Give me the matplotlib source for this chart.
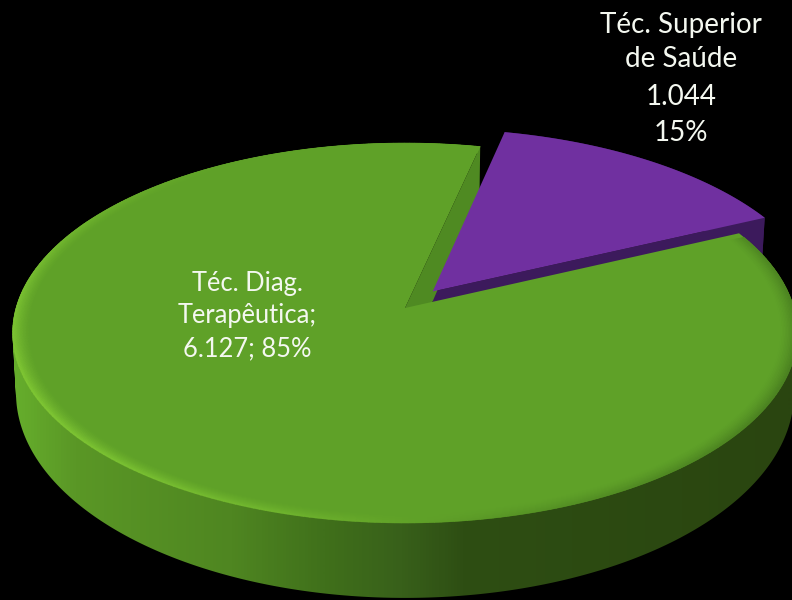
import numpy as np
import matplotlib
matplotlib.use("Agg")
import matplotlib.pyplot as plt
from matplotlib.collections import PolyCollection
from matplotlib.colors import LinearSegmentedColormap, to_rgb
from matplotlib.patches import Polygon
from matplotlib.path import Path

# Workforce split shown in the pie
categories = ["Téc. Diag. Terapêutica", "Téc. Superior de Saúde"]
values = [6127, 1044]
label_lines_green = ["Téc. Diag.", "Terapêutica;", "6.127; 85%"]
label_lines_purple = ["Téc. Superior", "de Saúde", "1.044", "15%"]

# Pie styling
GREEN_TOP = "#5FA128"
GREEN_CUT = "#4F8A22"
GREEN_HI = "#80C834"
GREEN_LO = "#4A8020"
PURPLE_TOP = "#7030A0"
PURPLE_SIDE = "#3C1A5C"
START_CLOCK = 12.6      # degrees clockwise from the far side of the disc
EXPLODE = 0.115
PERSPECTIVE = 0.1316


def project(u, v, level):
    """Map disc coordinates to canvas pixels; level 0 is the top face, 1 the base."""
    w = 1 + PERSPECTIVE * np.asarray(v)
    if level == 0:
        ax_x, ax_y, cy = 389.0, 186.7, 308.0
    else:
        ax_x, ax_y, cy = 385.6, 201.4, 366.0
    return 405.0 + ax_x * np.asarray(u) / w, cy - ax_y * np.asarray(v) / w


def rim(clock_deg, radius=1.0, offset=(0.0, 0.0)):
    t = np.radians(clock_deg)
    return radius * np.sin(t) + offset[0], radius * np.cos(t) + offset[1]


def xy(u, v, level):
    x, y = project(u, v, level)
    return np.column_stack([np.atleast_1d(x), np.atleast_1d(y)])


def mix(a, b, t):
    return np.asarray(a) * (1 - t) + np.asarray(b) * t


def wound_positive(quad):
    """Return the quad with a positive signed area so overlaps never cancel."""
    x, y = quad[:, 0], quad[:, 1]
    area = np.sum(x * np.roll(y, -1) - np.roll(x, -1) * y)
    return quad if area >= 0 else quad[::-1]


fig = plt.figure(figsize=(7.92, 6.0), dpi=100, facecolor="black")
ax = fig.add_axes([0, 0, 1, 1])
ax.set_xlim(0, 792)
ax.set_ylim(600, 0)
ax.axis("off")

total = sum(values)
purple_sweep = 360.0 * values[1] / total
purple_start = START_CLOCK
purple_end = purple_start + purple_sweep
green_start = purple_end
green_end = START_CLOCK + 360.0

# Exploded slice offset along its bisector
mid = np.radians(purple_start + purple_sweep / 2)
off = (EXPLODE * np.sin(mid), EXPLODE * np.cos(mid))

# Outer wall of the green slice: horizontal shading clipped to the near-side quads
side_cmap = LinearSegmentedColormap.from_list("side", [
    (0.00, "#66AE2C"), (0.08, "#5A9726"), (0.28, "#4F8621"), (0.40, "#40701B"),
    (0.50, "#38601A"), (0.58, "#2E4E13"), (1.00, "#2A4510"),
])
clock_g = np.linspace(green_start, green_end, 721)
ug, vg = rim(clock_g)
top_pts = xy(ug, vg, 0)

clock_near = np.linspace(green_start, 300.0, 500)
un, vn = rim(clock_near)
near_top = xy(un, vn, 0)
near_base = xy(un, vn, 1)
quads = np.stack([near_top[:-1], near_base[:-1], near_base[1:], near_top[1:]], axis=1)
quads = np.array([wound_positive(q) for q in quads])
wall_outline = Path.make_compound_path_from_polys(quads)
shade = ax.imshow(np.linspace(0, 1, 780)[None, :], cmap=side_cmap, aspect="auto",
                  extent=(12, 792, 600, 140), zorder=0.5, interpolation="bilinear")
shade.set_clip_path(wall_outline, ax.transData)
ax.set_xlim(0, 792)
ax.set_ylim(600, 0)

# Purple slice: walls first, then the top
clock_p = np.linspace(purple_start, purple_end, 60)
up, vp = rim(clock_p, 1.01, off)
ax.add_patch(Polygon(np.vstack([xy(up, vp, 0), xy(up, vp, 1)[::-1]]),
                     fc=PURPLE_SIDE, ec="none", zorder=1))
cut_u, cut_v = rim(purple_end, 1.01, off)
cut_top = xy(np.array([off[0], cut_u]), np.array([off[1], cut_v]), 0)
cut_base = xy(np.array([off[0], cut_u]), np.array([off[1], cut_v]), 1)
ax.add_patch(Polygon(np.vstack([cut_top, cut_base[::-1]]),
                     fc=PURPLE_SIDE, ec="none", zorder=1))

# Cut wall of the green slice, seen through the gap
gu, gv = rim(green_end)
wall_top = xy(np.array([0.0, gu]), np.array([0.0, gv]), 0)
wall_base = xy(np.array([0.0, gu]), np.array([0.0, gv]), 1)
ax.add_patch(Polygon(np.vstack([wall_top, wall_base[::-1]]),
                     fc=GREEN_CUT, ec="none", zorder=2))

ax.add_patch(Polygon(np.vstack([xy(off[0], off[1], 0), xy(up, vp, 0)]),
                     fc=PURPLE_TOP, ec="none", zorder=3))

# Green top face
ax.add_patch(Polygon(np.vstack([xy(0.0, 0.0, 0), top_pts]),
                     fc=GREEN_TOP, ec="none", zorder=5))

# Bevel along the outer edge of the green face
radii = np.linspace(0.955, 1.0, 13)
clock_b = np.linspace(green_start + 1.5, green_end, 361)
cells, cell_colors = [], []
base_c, hi_c, lo_c = to_rgb(GREEN_TOP), to_rgb(GREEN_HI), to_rgb(GREEN_LO)
for j in range(len(radii) - 1):
    rj = (radii[j] + radii[j + 1]) / 2
    fade = ((rj - radii[0]) / (radii[-1] - radii[0])) ** 1.5
    for i in range(len(clock_b) - 1):
        ca = clock_b[i]
        cb = clock_b[i + 1]
        u0, v0 = rim(np.array([ca, cb]), radii[j])
        u1, v1 = rim(np.array([cb, ca]), radii[j + 1])
        cells.append(np.vstack([xy(u0, v0, 0), xy(u1, v1, 0)]))
        light = max(0.0, np.cos(np.radians(ca - 245))) ** 1.5
        dark = max(0.0, np.cos(np.radians(ca - 105))) ** 1.2
        c = mix(base_c, hi_c, light * fade)
        c = mix(c, lo_c, dark * fade)
        cell_colors.append(c)
ax.add_collection(PolyCollection(cells, facecolors=cell_colors,
                                 edgecolors=cell_colors, linewidths=0.4, zorder=6))

# Labels
font = dict(family="Lato", color="#F4F8F0", ha="center", va="center", zorder=10)
for line, y_px in zip(label_lines_green, [283, 315, 349]):
    ax.text(247, y_px, line, fontsize=18.4, **font)
for line, y_px in zip(label_lines_purple, [25, 59, 97, 133]):
    ax.text(681, y_px, line, fontsize=20, **font)

fig.savefig("out.png", dpi=100, facecolor="black")
